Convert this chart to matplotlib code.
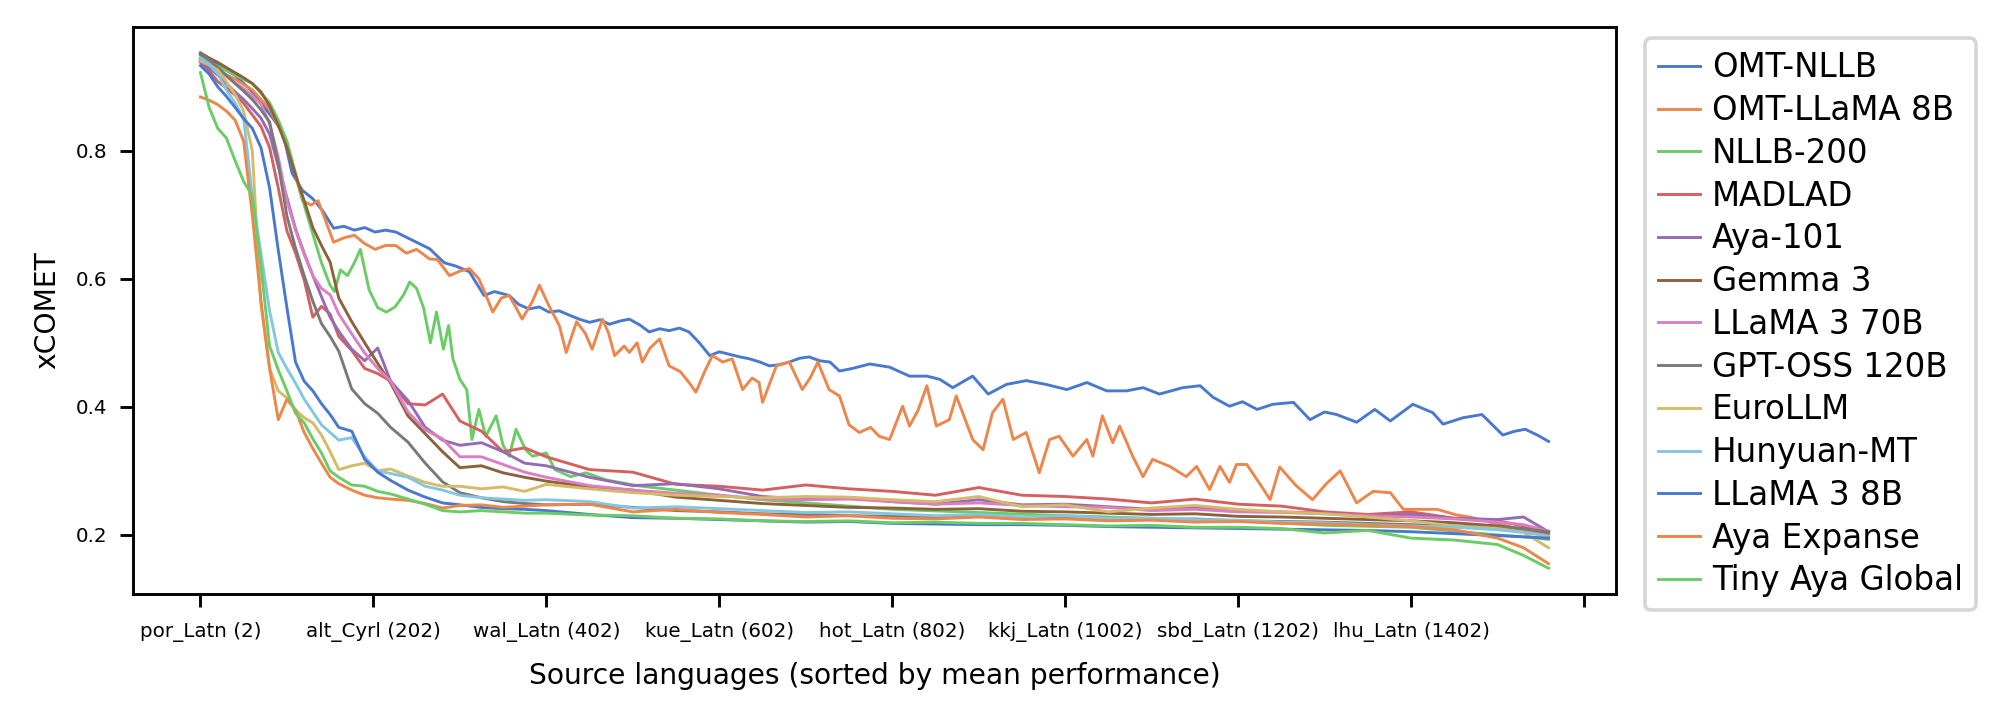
"""
xCOMET per source language, sorted by mean performance, one line per MT model
"""

import matplotlib
matplotlib.use('Agg')
import matplotlib.pyplot as plt

## model names and muted palette (repeats after 10)
models = ['OMT-NLLB', 'OMT-LLaMA 8B', 'NLLB-200', 'MADLAD', 'Aya-101', 'Gemma 3',
          'LLaMA 3 70B', 'GPT-OSS 120B', 'EuroLLM', 'Hunyuan-MT', 'LLaMA 3 8B',
          'Aya Expanse', 'Tiny Aya Global']
muted = ['#4878d0', '#ee854a', '#6acc64', '#d65f5f', '#956cb4',
         '#8c613c', '#dc7ec0', '#797979', '#d5bb67', '#82c6e2']

tick_pos = [0, 200, 400, 600, 800, 1000, 1200, 1400, 1600]
tick_labels = ['por_Latn (2)', 'alt_Cyrl (202)', 'wal_Latn (402)', 'kue_Latn (602)',
               'hot_Latn (802)', 'kkj_Latn (1002)', 'sbd_Latn (1202)', 'lhu_Latn (1402)', '']
y_ticks = [0.2, 0.4, 0.6, 0.8]

## language rank positions
idx_omt_nllb = [0, 20, 40, 58, 70, 83, 95, 106, 118, 130, 142, 154, 166, 178, 190, 202, 214, 226,
                238, 250, 265, 282, 295, 311, 328, 340, 357, 368, 380, 392, 403, 415, 427, 438,
                450, 462, 473, 485, 496, 508, 519, 531, 542, 554, 565, 577, 589, 600, 612, 624,
                635, 647, 658, 670, 681, 693, 704, 716, 728, 739, 754, 774, 797, 820, 840, 855,
                870, 893, 911, 932, 955, 978, 1002, 1025, 1048, 1071, 1090, 1109, 1136, 1156,
                1171, 1190, 1205, 1222, 1240, 1264, 1283, 1300, 1314, 1337, 1358, 1376, 1402,
                1425, 1437, 1460, 1482, 1506, 1520, 1532, 1546, 1559]
omt_nllb = [0.950, 0.935, 0.918, 0.895, 0.875, 0.852, 0.830, 0.765, 0.738, 0.725, 0.705, 0.679,
            0.682, 0.676, 0.680, 0.673, 0.676, 0.673, 0.665, 0.657, 0.647, 0.625, 0.620, 0.611,
            0.574, 0.580, 0.574, 0.560, 0.553, 0.556, 0.548, 0.550, 0.543, 0.537, 0.532, 0.536,
            0.529, 0.534, 0.537, 0.528, 0.517, 0.522, 0.519, 0.523, 0.517, 0.500, 0.480, 0.486,
            0.482, 0.478, 0.475, 0.470, 0.464, 0.466, 0.470, 0.476, 0.478, 0.472, 0.470, 0.456,
            0.460, 0.467, 0.462, 0.448, 0.448, 0.443, 0.430, 0.448, 0.420, 0.435, 0.441, 0.435,
            0.427, 0.438, 0.425, 0.425, 0.430, 0.420, 0.430, 0.433, 0.415, 0.401, 0.408, 0.396,
            0.404, 0.407, 0.380, 0.392, 0.388, 0.376, 0.396, 0.378, 0.404, 0.391, 0.373, 0.383,
            0.388, 0.356, 0.362, 0.365, 0.356, 0.346]

idx_omt_llama = [0, 20, 40, 60, 80, 95, 105, 118, 128, 136, 145, 154, 166, 178, 190, 202, 214, 226,
                 238, 250, 265, 274, 288, 300, 311, 322, 330, 338, 348, 357, 365, 372, 384, 392,
                 403, 415, 423, 435, 445, 453, 465, 472, 479, 490, 496, 505, 511, 520, 531, 542,
                 555, 565, 573, 583, 592, 604, 615, 627, 638, 646, 650, 666, 681, 696, 705, 714,
                 727, 739, 750, 762, 775, 785, 797, 812, 820, 830, 840, 851, 866, 874, 885, 893,
                 905, 916, 928, 940, 955, 970, 982, 993, 1009, 1025, 1032, 1043, 1055, 1063,
                 1078, 1090, 1101, 1121, 1140, 1152, 1167, 1179, 1190, 1198, 1210, 1225, 1237,
                 1248, 1267, 1286, 1302, 1318, 1337, 1356, 1376, 1391, 1414, 1430, 1453, 1468,
                 1491, 1514, 1529, 1546, 1559]
omt_llama = [0.940, 0.925, 0.912, 0.895, 0.865, 0.825, 0.785, 0.722, 0.715, 0.722, 0.690, 0.657,
             0.664, 0.668, 0.655, 0.646, 0.652, 0.652, 0.640, 0.646, 0.631, 0.630, 0.605, 0.612,
             0.616, 0.600, 0.575, 0.548, 0.570, 0.574, 0.555, 0.537, 0.565, 0.590, 0.558, 0.527,
             0.485, 0.533, 0.515, 0.490, 0.537, 0.515, 0.480, 0.495, 0.485, 0.500, 0.470, 0.492,
             0.506, 0.464, 0.455, 0.438, 0.423, 0.455, 0.480, 0.470, 0.475, 0.427, 0.445, 0.438,
             0.407, 0.464, 0.470, 0.427, 0.445, 0.470, 0.427, 0.417, 0.372, 0.360, 0.368, 0.354,
             0.349, 0.401, 0.370, 0.395, 0.433, 0.370, 0.380, 0.417, 0.378, 0.349, 0.333, 0.391,
             0.412, 0.349, 0.360, 0.297, 0.349, 0.354, 0.323, 0.349, 0.323, 0.386, 0.344, 0.370,
             0.323, 0.291, 0.318, 0.307, 0.291, 0.307, 0.271, 0.307, 0.282, 0.310, 0.310, 0.280,
             0.255, 0.306, 0.277, 0.255, 0.280, 0.300, 0.250, 0.268, 0.266, 0.240, 0.240, 0.240,
             0.231, 0.228, 0.220, 0.213, 0.206, 0.204, 0.200]

idx_nllb200 = [0, 20, 40, 60, 80, 90, 100, 110, 120, 130, 140, 150, 155, 162, 170, 178, 185, 195,
               205, 215, 225, 235, 242, 250, 258, 266, 273, 281, 287, 292, 300, 308, 314, 322,
               330, 342, 350, 357, 365, 376, 384, 400, 410, 428, 446, 469, 505, 543, 600, 650,
               700, 800, 900, 1000, 1100, 1200, 1300, 1400, 1450, 1500, 1530, 1559]
nllb200 = [0.945, 0.932, 0.918, 0.905, 0.875, 0.848, 0.815, 0.765, 0.715, 0.670, 0.625, 0.590,
           0.580, 0.614, 0.605, 0.625, 0.646, 0.583, 0.555, 0.548, 0.556, 0.575, 0.595, 0.585,
           0.555, 0.500, 0.548, 0.490, 0.527, 0.475, 0.443, 0.427, 0.349, 0.396, 0.354, 0.386,
           0.340, 0.323, 0.365, 0.333, 0.323, 0.328, 0.302, 0.291, 0.297, 0.286, 0.277, 0.271,
           0.262, 0.255, 0.250, 0.240, 0.235, 0.230, 0.226, 0.222, 0.215, 0.212, 0.206, 0.200,
           0.197, 0.193]

## shared positions for the lower bundle of models
idx_bundle = [0, 10, 20, 30, 40, 50, 60, 70, 80, 90, 100, 110, 120, 130, 140, 150, 160, 175, 190,
              205, 220, 240, 260, 280, 300, 325, 350, 375, 400, 450, 500, 550, 600, 650, 700, 750,
              800, 850, 900, 950, 1000, 1050, 1100, 1150, 1200, 1250, 1300, 1350, 1400, 1450,
              1500, 1530, 1559]

madlad = [0.938, 0.925, 0.908, 0.898, 0.887, 0.874, 0.856, 0.838, 0.805, 0.742, 0.675, 0.640,
          0.598, 0.540, 0.557, 0.545, 0.510, 0.488, 0.460, 0.452, 0.440, 0.405, 0.403, 0.420,
          0.378, 0.362, 0.330, 0.336, 0.322, 0.302, 0.298, 0.279, 0.276, 0.270, 0.278, 0.272,
          0.268, 0.262, 0.274, 0.262, 0.260, 0.256, 0.250, 0.256, 0.248, 0.245, 0.236, 0.232,
          0.236, 0.226, 0.222, 0.214, 0.203]
aya101 = [0.941, 0.930, 0.918, 0.905, 0.892, 0.880, 0.866, 0.851, 0.826, 0.776, 0.727, 0.678,
          0.640, 0.605, 0.572, 0.540, 0.518, 0.490, 0.472, 0.492, 0.440, 0.410, 0.368, 0.348,
          0.340, 0.344, 0.330, 0.312, 0.308, 0.290, 0.277, 0.280, 0.272, 0.260, 0.256, 0.258,
          0.252, 0.248, 0.255, 0.247, 0.248, 0.244, 0.240, 0.243, 0.238, 0.236, 0.234, 0.230,
          0.232, 0.226, 0.224, 0.228, 0.205]
gemma3 = [0.953, 0.945, 0.938, 0.930, 0.922, 0.914, 0.905, 0.892, 0.870, 0.840, 0.805, 0.762,
          0.722, 0.680, 0.652, 0.626, 0.570, 0.533, 0.500, 0.468, 0.437, 0.386, 0.358, 0.330,
          0.305, 0.308, 0.297, 0.290, 0.284, 0.275, 0.270, 0.259, 0.254, 0.249, 0.246, 0.243,
          0.242, 0.240, 0.241, 0.237, 0.236, 0.234, 0.232, 0.233, 0.229, 0.228, 0.226, 0.224,
          0.222, 0.219, 0.214, 0.210, 0.204]
llama70b = [0.944, 0.936, 0.926, 0.916, 0.906, 0.897, 0.886, 0.873, 0.842, 0.790, 0.722, 0.676,
            0.638, 0.605, 0.585, 0.575, 0.545, 0.514, 0.484, 0.460, 0.440, 0.392, 0.364, 0.350,
            0.322, 0.322, 0.310, 0.298, 0.290, 0.277, 0.270, 0.265, 0.262, 0.256, 0.255, 0.256,
            0.252, 0.248, 0.250, 0.246, 0.244, 0.243, 0.238, 0.240, 0.236, 0.235, 0.233, 0.230,
            0.228, 0.225, 0.220, 0.216, 0.206]
gptoss = [0.952, 0.942, 0.930, 0.918, 0.905, 0.893, 0.880, 0.864, 0.845, 0.780, 0.698, 0.648,
          0.605, 0.565, 0.530, 0.510, 0.487, 0.428, 0.405, 0.390, 0.368, 0.345, 0.312, 0.283,
          0.266, 0.258, 0.252, 0.249, 0.247, 0.248, 0.243, 0.238, 0.236, 0.233, 0.232, 0.230,
          0.229, 0.228, 0.230, 0.227, 0.226, 0.226, 0.224, 0.225, 0.222, 0.221, 0.220, 0.218,
          0.216, 0.214, 0.212, 0.210, 0.205]
eurollm = [0.940, 0.934, 0.926, 0.908, 0.888, 0.862, 0.800, 0.560, 0.460, 0.425, 0.414, 0.395,
           0.383, 0.375, 0.356, 0.330, 0.302, 0.308, 0.312, 0.300, 0.303, 0.292, 0.282, 0.276,
           0.276, 0.272, 0.275, 0.268, 0.279, 0.272, 0.266, 0.262, 0.260, 0.258, 0.260, 0.259,
           0.255, 0.252, 0.260, 0.244, 0.247, 0.236, 0.242, 0.246, 0.240, 0.236, 0.233, 0.228,
           0.222, 0.214, 0.210, 0.204, 0.180]
hunyuan = [0.944, 0.935, 0.920, 0.895, 0.875, 0.850, 0.730, 0.640, 0.550, 0.485, 0.460, 0.437,
           0.412, 0.392, 0.372, 0.360, 0.348, 0.352, 0.322, 0.300, 0.296, 0.290, 0.276, 0.270,
           0.262, 0.258, 0.256, 0.254, 0.255, 0.252, 0.242, 0.244, 0.241, 0.238, 0.235, 0.236,
           0.233, 0.230, 0.232, 0.228, 0.230, 0.226, 0.226, 0.224, 0.223, 0.220, 0.219, 0.216,
           0.214, 0.212, 0.208, 0.204, 0.198]
llama8b = [0.933, 0.920, 0.900, 0.885, 0.868, 0.850, 0.835, 0.805, 0.742, 0.645, 0.555, 0.470,
           0.440, 0.425, 0.405, 0.388, 0.368, 0.362, 0.318, 0.298, 0.285, 0.270, 0.259, 0.250,
           0.247, 0.243, 0.241, 0.240, 0.238, 0.232, 0.227, 0.226, 0.224, 0.222, 0.220, 0.221,
           0.218, 0.217, 0.216, 0.216, 0.215, 0.213, 0.212, 0.211, 0.210, 0.209, 0.208, 0.207,
           0.205, 0.202, 0.199, 0.197, 0.195]
aya_expanse = [0.884, 0.879, 0.872, 0.862, 0.848, 0.815, 0.700, 0.565, 0.460, 0.380, 0.412, 0.395,
               0.360, 0.335, 0.312, 0.290, 0.280, 0.270, 0.262, 0.258, 0.256, 0.254, 0.249, 0.242,
               0.246, 0.247, 0.243, 0.245, 0.247, 0.248, 0.236, 0.240, 0.235, 0.232, 0.228, 0.230,
               0.226, 0.225, 0.228, 0.224, 0.225, 0.222, 0.223, 0.220, 0.221, 0.218, 0.217, 0.215,
               0.213, 0.208, 0.195, 0.180, 0.155]
tiny_aya = [0.922, 0.868, 0.835, 0.820, 0.785, 0.752, 0.730, 0.620, 0.495, 0.458, 0.425, 0.390,
            0.375, 0.350, 0.328, 0.300, 0.290, 0.278, 0.276, 0.268, 0.264, 0.256, 0.248, 0.238,
            0.236, 0.238, 0.236, 0.234, 0.234, 0.231, 0.230, 0.226, 0.225, 0.222, 0.221, 0.222,
            0.219, 0.220, 0.218, 0.218, 0.216, 0.214, 0.215, 0.212, 0.212, 0.210, 0.203, 0.207,
            0.195, 0.192, 0.185, 0.168, 0.148]

series = [(idx_omt_nllb, omt_nllb), (idx_omt_llama, omt_llama), (idx_nllb200, nllb200),
          (idx_bundle, madlad), (idx_bundle, aya101), (idx_bundle, gemma3),
          (idx_bundle, llama70b), (idx_bundle, gptoss), (idx_bundle, eurollm),
          (idx_bundle, hunyuan), (idx_bundle, llama8b), (idx_bundle, aya_expanse),
          (idx_bundle, tiny_aya)]

DPI = 260
fig, ax = plt.subplots(figsize=(2000 / DPI, 718 / DPI), dpi=DPI)
fig.subplots_adjust(left=0.0665, right=0.808, top=0.9624, bottom=0.1727)

for k, (name, (xs, ys)) in enumerate(zip(models, series)):
    ax.plot(xs, ys, color=muted[k % len(muted)], linewidth=0.8, label=name)

ax.set_xticks(tick_pos)
ax.set_xticklabels(tick_labels, fontsize=5.5)
ax.set_yticks(y_ticks)
ax.tick_params(axis='y', labelsize=5.5)
ax.tick_params(axis='x', pad=4.3)
ax.set_xlabel('Source languages (sorted by mean performance)', fontsize=7.8, labelpad=5.5)
ax.set_ylabel('xCOMET', fontsize=7.8)

ax.legend(loc='upper left', bbox_to_anchor=(1.012, 1), borderaxespad=0.35,
          fontsize=9.0, labelspacing=0.3, handlelength=1.3, handletextpad=0.35)

plt.savefig('out.png', dpi=DPI)
